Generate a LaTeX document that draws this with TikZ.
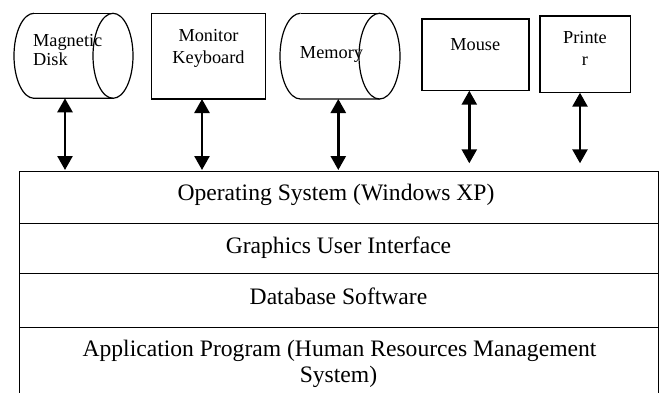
\documentclass[tikz,border=0pt]{standalone}
\usepackage{fontspec}
\setmainfont{Liberation Serif}
\usetikzlibrary{arrows.meta}
\begin{document}
\begin{tikzpicture}[x=1pt,y=1pt,
  box/.style={draw, line width=1.2pt, inner sep=0pt},
  cyl/.style={line width=1.2pt},
  layer/.style={draw, line width=1.2pt, minimum width=639pt, inner sep=0pt, anchor=north west},
  small/.style={font=\fontsize{18.3}{21.5}\selectfont, inner sep=0pt},
  big/.style={font=\fontsize{23.6}{26}\selectfont, inner sep=0pt},
  link/.style={line width=2.6pt, {Triangle[width=15pt,length=14pt]}-{Triangle[width=15pt,length=14pt]}},
]
\useasboundingbox (0,0) rectangle (662,-392);
% layers
\node[layer, minimum height=52pt] (os) at (19,-171) {};
\node[layer, minimum height=50pt] (gui) at (19,-223) {};
\node[layer, minimum height=54pt] (db) at (19,-273) {};
\node[layer, minimum height=67pt] (app) at (19,-327) {};
\node[big, anchor=base] (ost) at (336,-200) {Operating System (Windows XP)};
\node[big, anchor=base] (guit) at (338.5,-253) {Graphics User Interface};
\node[big, anchor=base] (dbt) at (338.5,-304) {Database Software};
\node[big, anchor=base] (appt1) at (339.5,-356) {Application Program (Human Resources Management};
\node[big, anchor=base] (appt2) at (338.5,-382) {System)};
% magnetic disk cylinder
\node[inner sep=0pt, minimum width=119pt, minimum height=85pt] (disk) at (73.5,-55.8) {};
\draw[cyl] (34,-13.3) -- (113,-13.3);
\draw[cyl] (34,-13.3) arc[start angle=90, end angle=270, x radius=20, y radius=42.5] -- (113,-98.3);
\draw[cyl] (113,-55.8) ellipse[x radius=20, y radius=42.5];
\node[small, anchor=base west] (diskt1) at (33,-46.7) {Magnetic};
\node[small, anchor=base west] (diskt2) at (33,-65.7) {Disk};
% monitor keyboard
\node[box, minimum width=114pt, minimum height=85.7pt] (mon) at (208.7,-56.2) {};
\node[small, anchor=base] (mont1) at (208.5,-41.7) {Monitor};
\node[small, anchor=base] (mont2) at (208.5,-63.3) {Keyboard};
% memory cylinder
\node[inner sep=0pt, minimum width=120pt, minimum height=85.7pt] (mem) at (340,-56.2) {};
\draw[cyl] (300.5,-13.3) -- (379.5,-13.3);
\draw[cyl] (300.5,-13.3) arc[start angle=90, end angle=270, x radius=20.5, y radius=42.85] -- (379.5,-99);
\draw[cyl] (379.5,-56.15) ellipse[x radius=20.5, y radius=42.85];
\node[small, anchor=base] (memt) at (331.5,-58) {Memory};
% mouse
\node[box, minimum width=107pt, minimum height=71.7pt] (mouse) at (475.5,-54.85) {};
\node[small, anchor=base] (mouset) at (475.3,-50) {Mouse};
% printer
\node[box, minimum width=90.7pt, minimum height=76.7pt] (prn) at (585.35,-54.35) {};
\node[small, anchor=base] (prnt1) at (585,-43.3) {Printe};
\node[small, anchor=base] (prnt2) at (585,-65.7) {r};
% connectors
\coordinate (a1) at (65,-98.3);
\coordinate (a2) at (202,-99);
\coordinate (a3) at (338.3,-99);
\coordinate (a4) at (469.3,-90.7);
\coordinate (a5) at (580,-92.7);
\coordinate (b4) at (469.3,-163.3);
\coordinate (b5) at (580,-163.3);
\draw[link] (a1) -- ([yshift=1pt]a1 |- os.north);
\draw[link] (a2) -- ([yshift=1pt]a2 |- os.north);
\draw[link] (a3) -- ([yshift=1pt]a3 |- os.north);
\draw[link] (a4) -- (b4);
\draw[link] (a5) -- (b5);
\end{tikzpicture}
\end{document}
